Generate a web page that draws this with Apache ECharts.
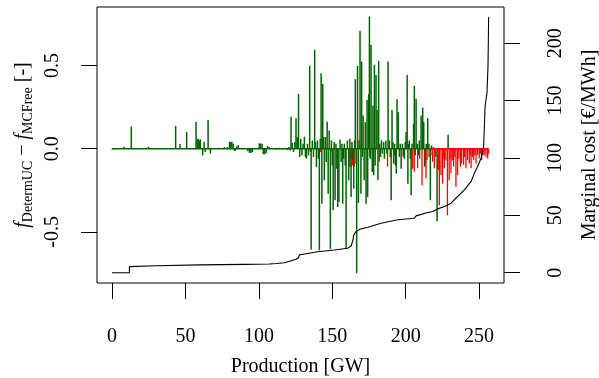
<!DOCTYPE html>
<html><head><meta charset="utf-8">
<script src="https://cdn.jsdelivr.net/npm/echarts@6/dist/echarts.min.js"></script>
<style>html,body{margin:0;padding:0;background:#fff}#c{width:599px;height:378px}</style>
</head><body><div id="c"></div>
<script>
const xTicks = [0, 50, 100, 150, 200, 250];
const leftTicks = [-0.5, 0, 0.5];
const rightTicks = [0, 50, 100, 150, 200];

// [production GW, f_DetermUC - f_MCFree]
const greenBars = [
  [0.5,0.003],[8.2,0.012],[13.1,0.133],[24.7,0.012],[43.3,0.137],[46.3,0.028],[50.8,0.10],[57.2,0.161],
  [58.0,0.057],[58.7,0.06],[59.4,0.05],[60.1,0.057],[61.7,-0.04],[62.7,0.04],[63.5,-0.02],[65.4,0.173],
  [67.0,-0.03],[76.5,0.01],[78.5,0.01],[80.0,0.042],[80.8,0.04],[81.6,0.042],[82.5,0.03],[83.3,-0.012],
  [84.0,-0.012],[85.0,0.015],[86.0,0.022],[92.5,-0.015],[93.6,-0.025],[94.6,-0.025],[95.6,-0.02],
  [100.3,0.032],[101.2,0.032],[102.2,0.03],[103.0,-0.033],[104.0,-0.033],[105.0,-0.025],[106.0,0.017],
  [107.0,0.01],[110,0.004],[112,-0.005],[114,0.006],[116,-0.004],[118,0.005],[119.5,-0.008],[120.5,0.01],
  [121.2,-0.01],[121.9,0.193],[122.8,0.035],[123.6,-0.02],[124.5,0.04],[125.3,0.183],[126.2,0.07],
  [127.0,0.33],[127.8,-0.05],[128.5,0.06],[129.3,-0.04],[130.1,0.03],[131.0,0.072],[131.7,-0.05],
  [132.4,-0.06],[133.1,0.03],[133.8,-0.04],[134.6,0.498],[135.6,-0.606],[136.4,0.05],[137.2,-0.05],
  [138.0,0.595],[138.6,0.04],[139.2,-0.11],[139.9,0.05],[140.5,-0.06],[141.2,-0.61],[141.8,0.06],
  [142.4,0.454],[142.9,-0.33],[143.5,0.39],[144.1,0.07],[144.6,-0.19],[145.3,0.07],[145.9,-0.08],
  [146.5,0.163],[147.2,-0.27],[147.9,0.11],[148.7,-0.602],[149.4,0.05],[150.0,-0.1],[150.6,-0.37],
  [151.3,0.04],[151.9,-0.31],[152.5,0.03],[153.1,-0.12],[153.7,-0.35],[154.5,-0.32],[155.3,0.055],
  [156.0,-0.08],[156.6,0.03],[157.1,-0.33],[157.7,-0.06],[158.2,0.03],[158.8,-0.1],[159.4,-0.60],
  [160.3,0.05],[161.2,-0.19],[162.0,0.06],[162.8,-0.29],[163.4,0.04],[164.0,-0.06],[164.6,-0.24],
  [165.2,0.05],[165.7,0.418],[166.6,-0.747],[167.2,0.498],[167.8,-0.325],[168.3,0.05],[168.9,0.709],
  [169.5,-0.27],[170.0,0.524],[170.5,-0.05],[171.0,0.2],[171.7,-0.19],[172.5,0.16],[173.0,-0.33],
  [173.7,0.293],[174.1,-0.29],[174.8,0.328],[175.3,0.795],[175.9,-0.06],[176.4,0.625],[177.2,-0.14],
  [177.7,0.26],[178.2,-0.16],[178.7,0.504],[179.2,-0.1],[179.8,0.444],[180.5,0.233],[181.1,-0.19],
  [181.6,0.528],[182.3,0.03],[182.8,-0.05],[183.5,0.05],[184.1,-0.03],[185.0,0.04],[185.5,-0.06],
  [186.5,0.05],[187.2,-0.03],[188.0,0.524],[188.9,0.05],[189.5,-0.05],[190.1,-0.31],[190.7,0.233],
  [191.3,0.04],[191.8,-0.09],[192.5,0.03],[193.0,-0.1],[193.6,-0.15],[194.1,0.298],[195.0,0.22],
  [195.7,-0.05],[196.3,0.03],[196.9,-0.12],[197.8,0.03],[198.5,-0.04],[199.1,-0.06],[199.7,0.04],
  [200.3,0.1],[201.0,0.444],[201.5,-0.21],[202.0,0.03],[202.5,0.05],[203.1,-0.06],[203.7,-0.28],
  [204.3,0.03],[205.4,0.15],[205.9,0.378],[206.5,-0.04],[207.1,0.30],[208.0,0.03],[208.7,-0.04],
  [209.3,0.05],[210.5,0.2],[211.6,0.247],[212.3,0.16],[213.2,-0.10],[214.0,0.03],[215.0,0.183],
  [215.8,0.03],[216.8,-0.31],[217.6,0.02],[219.0,0.01],[221.4,-0.436],[223.0,0.005],[228.9,0.084]
];

const redBars = [
  [0,-0.006],[135.1,-0.02],[141.9,-0.02],[149.2,-0.02],[161.6,-0.108],[162.4,-0.06],[162.8,-0.108],
  [163.9,-0.10],[165.0,-0.108],[166.2,-0.09],[175.6,-0.048],[182.1,-0.078],[187.7,-0.108],[192.3,-0.04],
  [198.4,-0.05],[204.8,-0.12],[205.9,-0.138],[208.2,-0.118],[209.6,-0.06],[211.2,-0.219],[212.9,-0.108],
  [213.9,-0.178],[214.6,-0.068],[216.0,-0.05],[217.2,-0.04],[218.4,-0.078],[219.6,-0.118],[220.5,-0.05],
  [222.3,-0.128],[223.0,-0.34],[224.1,-0.158],[225.2,-0.209],[225.8,-0.06],[226.4,-0.118],[227.4,-0.07],
  [228.5,-0.40],[229.7,-0.189],[230.3,-0.06],[230.9,-0.148],[231.8,-0.07],[232.7,-0.108],[233.5,-0.05],
  [234.3,-0.229],[235.4,-0.158],[236.3,-0.06],[237.3,-0.108],[238.2,-0.088],[239.5,-0.098],[240.3,-0.05],
  [241.1,-0.118],[242.2,-0.068],[243.4,-0.088],[244.0,-0.04],[244.6,-0.118],[245.5,-0.05],[246.3,-0.068],
  [247.2,-0.04],[248.0,-0.088],[249.0,-0.038],[250.2,-0.058],[251.0,-0.03],[251.8,-0.068],[252.7,-0.04],
  [253.6,-0.038],[254.8,-0.05],[255.9,-0.058],[256.5,-0.03]
];

const greenBase = [[0, 0], [218, 0]];
const redBase = [[218, 0], [256.5, 0]];

// [production GW, marginal cost EUR/MWh]
const costCurve = [
  [0,0],[11.8,0],[11.8,5.3],[30,6.0],[60,6.8],[90,7.3],[107,7.6],[112,8.0],[117.4,8.7],[125.3,11.7],
  [127.0,13.0],[127.6,15.5],[131,16.3],[140,18.3],[151.4,19.8],[160.5,21.3],[162.8,23.3],[164.0,28.0],
  [164.6,32.9],[166.2,35.8],[168.8,37.9],[174.2,39.6],[183.3,43.1],[194.6,46.1],[206,47.5],[207.1,49.5],
  [215.0,52.4],[218.4,53.3],[221.8,55.6],[226.4,57.6],[230.9,60.6],[235.4,66.4],[240,72.2],[244.6,79.5],
  [246.8,86.8],[249,92.6],[251.4,99.9],[253.1,110],[254.1,145],[255.4,156.7],[256.1,181.4],[256.5,222.7]
];

const FONT = '"Liberation Serif","Times New Roman",serif';
const GREEN = '#006400', RED = '#ff0000';

const chart = echarts.init(document.getElementById('c'), null, {renderer: 'canvas'});
const tickStyle = {color: '#000', width: 1};
chart.setOption({
  animation: false,
  backgroundColor: '#fff',
  grid: {left: 97, right: 95, top: 7, bottom: 95, show: true, borderColor: '#000', borderWidth: 1,
         backgroundColor: 'transparent', containLabel: false, outerBoundsMode: 'none'},
  xAxis: {
    type: 'value', min: -10.27, max: 266.97,
    axisLine: {show: false, onZero: false},
    splitLine: {show: false},
    axisTick: {show: true, length: 16, customValues: xTicks, lineStyle: tickStyle},
    axisLabel: {customValues: xTicks, margin: 44, fontFamily: FONT, fontSize: 20, lineHeight: 20, color: '#000'},
    name: 'Production [GW]', nameLocation: 'middle', nameGap: 73,
    nameTextStyle: {fontFamily: FONT, fontSize: 20, lineHeight: 22, color: '#000'}
  },
  yAxis: [{
    type: 'value', position: 'left', min: -0.807, max: 0.852,
    axisLine: {show: false, onZero: false},
    splitLine: {show: false},
    axisTick: {show: true, length: 16, customValues: leftTicks, lineStyle: tickStyle},
    axisLabel: {customValues: leftTicks, rotate: 90, margin: 34, fontFamily: FONT, fontSize: 20, lineHeight: 20,
                color: '#000', formatter: v => v.toFixed(1)},
    name: '{i|f}{s|DetermUC} \u2212 {i|f}{s|MCFree} [-]', nameLocation: 'middle', nameGap: 61,
    nameTextStyle: {fontFamily: FONT, fontSize: 20, lineHeight: 24, color: '#000',
      rich: {
        i: {fontFamily: FONT, fontSize: 20, fontStyle: 'italic', lineHeight: 24, color: '#000'},
        s: {fontFamily: FONT, fontSize: 14, lineHeight: 14, verticalAlign: 'bottom', color: '#000'}
      }}
  }, {
    type: 'value', position: 'right', min: -8.97, max: 231.5,
    axisLine: {show: false, onZero: false},
    splitLine: {show: false},
    axisTick: {show: true, length: 16, customValues: rightTicks, lineStyle: tickStyle},
    axisLabel: {customValues: rightTicks, rotate: 90, margin: 42, fontFamily: FONT, fontSize: 20, lineHeight: 20, color: '#000'},
    name: 'Marginal cost [\u20AC/MWh]', nameLocation: 'middle', nameGap: 75,
    nameTextStyle: {fontFamily: FONT, fontSize: 20, lineHeight: 22, color: '#000'}
  }],
  series: [
    {type: 'line', xAxisIndex: 0, yAxisIndex: 1, data: costCurve, symbol: 'none', silent: true,
     lineStyle: {color: '#000', width: 1.1}},
    {type: 'bar', xAxisIndex: 0, yAxisIndex: 0, data: redBars, barWidth: 1.3, barGap: '-100%', silent: true,
     itemStyle: {color: RED}},
    {type: 'line', xAxisIndex: 0, yAxisIndex: 0, data: redBase, symbol: 'none', silent: true,
     lineStyle: {color: RED, width: 1.5}},
    {type: 'line', xAxisIndex: 0, yAxisIndex: 0, data: greenBase, symbol: 'none', silent: true,
     lineStyle: {color: GREEN, width: 1.5}},
    {type: 'bar', xAxisIndex: 0, yAxisIndex: 0, data: greenBars, barWidth: 1.5, barGap: '-100%', silent: true,
     itemStyle: {color: GREEN}}
  ]
});
</script>
</body></html>
